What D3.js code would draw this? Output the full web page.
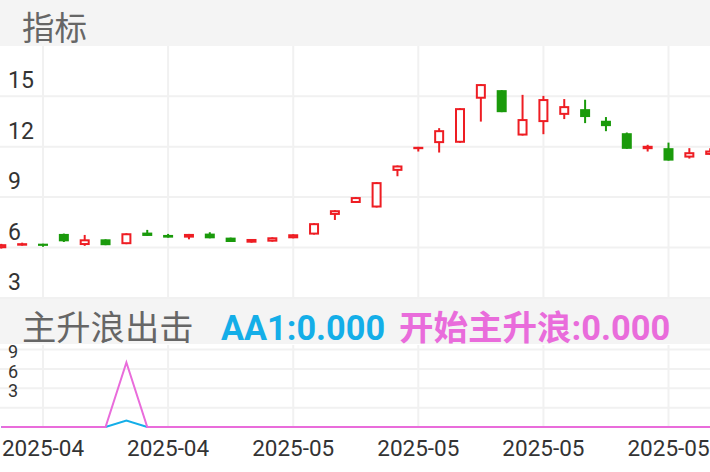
<!DOCTYPE html>
<html>
<head>
<meta charset="utf-8">
<script src="https://cdn.jsdelivr.net/npm/d3@7/dist/d3.min.js"></script>
<style>
  html, body { margin: 0; padding: 0; background: #fff; }
  svg { display: block; }
  text { font-family: Roboto, "Noto Sans CJK SC", sans-serif; }
</style>
</head>
<body>
<svg id="chart" width="710" height="472"></svg>
<script>
// Trading days shown on the chart
const dates = [
  "2025-04-11","2025-04-14","2025-04-15","2025-04-16","2025-04-17","2025-04-18",
  "2025-04-21","2025-04-22","2025-04-23","2025-04-24","2025-04-25","2025-04-28",
  "2025-04-29","2025-04-30","2025-05-06","2025-05-07","2025-05-08","2025-05-09",
  "2025-05-12","2025-05-13","2025-05-14","2025-05-15","2025-05-16","2025-05-19",
  "2025-05-20","2025-05-21","2025-05-22","2025-05-23","2025-05-26","2025-05-27",
  "2025-05-28","2025-05-29","2025-05-30","2025-06-03","2025-06-04"
];

// Daily OHLC prices
const open  = [5.96,6.11,6.23,6.81,6.15,6.49,6.20,6.89,6.75,6.59,6.83,6.59,6.29,6.35,6.55,6.77,7.94,8.65,8.38,10.56,11.85,12.21,12.23,14.85,15.36,12.66,13.46,13.89,14.23,13.54,12.80,11.85,11.91,11.35,11.51];
const close = [6.20,6.26,6.10,6.37,6.49,6.14,6.85,6.69,6.59,6.81,6.55,6.33,6.51,6.61,6.79,7.45,8.22,9.00,9.89,10.88,11.99,12.98,14.29,15.72,14.05,13.64,14.83,14.41,13.76,13.22,11.87,12.05,11.17,11.67,11.77];
const high  = [6.22,6.29,6.23,6.83,6.75,6.49,6.85,7.05,6.81,6.81,6.91,6.59,6.51,6.61,6.79,7.45,8.22,9.00,9.89,10.88,11.99,13.10,14.29,15.72,15.36,15.08,15.02,14.83,14.79,13.76,12.84,12.11,12.24,11.91,11.91];
const low   = [5.94,6.11,6.05,6.33,6.10,6.14,6.20,6.69,6.59,6.49,6.55,6.33,6.29,6.35,6.55,6.77,7.64,8.65,8.38,10.24,11.71,11.65,12.23,13.49,14.05,12.66,12.74,13.64,13.40,12.92,11.87,11.71,11.17,11.29,11.51];

// Indicator series (主升浪出击)
const aa1   = [0,0,0,0,0,0,1,0,0,0,0,0,0,0,0,0,0,0,0,0,0,0,0,0,0,0,0,0,0,0,0,0,0,0,0];
const start = [0,0,0,0,0,0,10,0,0,0,0,0,0,0,0,0,0,0,0,0,0,0,0,0,0,0,0,0,0,0,0,0,0,0,0];

// Axis ticks
const priceTicks = [3, 6, 9, 12, 15];
const subGridTicks = [3, 6, 9, 12];
const subLabelTicks = [3, 6, 9];
const dateTickIndex = [2, 8, 14, 20, 26, 32];

const W = 710;
const RED = "#ee1d23", GREEN = "#1a9a0b";
const GRID = "#f1f1f1", BAND = "#f4f4f4";

const svg = d3.select("#chart");

const x = d3.scalePoint().domain(dates).range([1.3, 710.2]);
const y = d3.scaleLinear().domain([3, 18]).range([298, 45.75]);
const ySub = d3.scaleLinear().domain([0, 12.7]).range([427, 345]);

// Title bands
svg.append("rect").attr("x", 0).attr("y", 0).attr("width", W).attr("height", 46).attr("fill", BAND);
svg.append("rect").attr("x", 0).attr("y", 299).attr("width", W).attr("height", 45).attr("fill", BAND);

svg.append("text").attr("x", 22).attr("y", 40)
  .attr("font-size", 32.5).attr("fill", "#666")
  .style("font-family", "'Noto Sans CJK SC', sans-serif")
  .text("指标");

// Main panel grid
const gMain = svg.append("g");
gMain.selectAll("line.h").data(priceTicks).join("line")
  .attr("x1", 0).attr("x2", W)
  .attr("y1", d => y(d)).attr("y2", d => y(d))
  .attr("stroke", GRID).attr("stroke-width", 2);
gMain.selectAll("line.v").data(dateTickIndex).join("line")
  .attr("x1", i => x(dates[i])).attr("x2", i => x(dates[i]))
  .attr("y1", 46).attr("y2", 298)
  .attr("stroke", GRID).attr("stroke-width", 2);

// Price labels sit just above their grid line
gMain.selectAll("text.py").data(priceTicks).join("text")
  .attr("x", 8).attr("y", d => y(d) - 8)
  .attr("font-size", 23).attr("fill", "#333")
  .text(d => d);

// Candlesticks
const candles = dates.map((d, i) => ({ d, o: open[i], c: close[i], h: high[i], l: low[i] }));
const gC = svg.append("g");
const cg = gC.selectAll("g").data(candles).join("g");
cg.append("line")
  .attr("x1", d => x(d.d)).attr("x2", d => x(d.d))
  .attr("y1", d => y(d.h)).attr("y2", d => y(d.l))
  .attr("stroke", d => d.c >= d.o ? RED : GREEN).attr("stroke-width", 2);
cg.each(function(d) {
  const g = d3.select(this);
  const top = y(Math.max(d.o, d.c)), bot = y(Math.min(d.o, d.c));
  const h = Math.max(bot - top, 2);
  if (d.c >= d.o) {
    // rising: hollow body
    if (h > 4) {
      g.append("rect").attr("x", x(d.d) - 4).attr("y", top + 1)
        .attr("width", 8).attr("height", h - 2)
        .attr("fill", "#fff").attr("stroke", RED).attr("stroke-width", 2);
    } else {
      g.append("rect").attr("x", x(d.d) - 5).attr("y", top)
        .attr("width", 10).attr("height", h).attr("fill", RED);
    }
  } else {
    g.append("rect").attr("x", x(d.d) - 5).attr("y", top)
      .attr("width", 10).attr("height", h).attr("fill", GREEN);
  }
});

// Indicator panel header
svg.append("text").attr("x", 22).attr("y", 339.5)
  .attr("font-size", 34.3).attr("fill", "#666")
  .style("font-family", "'Noto Sans CJK SC', sans-serif")
  .text("主升浪出击");
svg.append("text").attr("x", 221).attr("y", 339.5)
  .attr("font-size", 34.3).attr("font-weight", "bold").attr("fill", "#14aee8")
  .text("AA1:" + aa1[aa1.length - 1].toFixed(3));
svg.append("text").attr("x", 399).attr("y", 339.5)
  .attr("font-size", 34.5).attr("font-weight", "bold").attr("fill", "#e96cdb")
  .style("font-family", "Roboto, 'Noto Sans CJK SC', sans-serif")
  .text("开始主升浪:" + start[start.length - 1].toFixed(3));

// Indicator panel grid
const gSub = svg.append("g");
gSub.selectAll("line.h").data(subGridTicks).join("line")
  .attr("x1", 0).attr("x2", W)
  .attr("y1", d => ySub(d)).attr("y2", d => ySub(d))
  .attr("stroke", GRID).attr("stroke-width", 2);
gSub.selectAll("line.v").data(dateTickIndex).join("line")
  .attr("x1", i => x(dates[i])).attr("x2", i => x(dates[i]))
  .attr("y1", 345).attr("y2", 427)
  .attr("stroke", GRID).attr("stroke-width", 2);
gSub.selectAll("text").data(subLabelTicks).join("text")
  .attr("x", 8).attr("y", d => ySub(d) - 10.5)
  .attr("font-size", 18).attr("fill", "#333")
  .text(d => d);

const line = arr => d3.line().x((v, i) => x(dates[i])).y(v => ySub(v))(arr);
svg.append("path").attr("d", line(aa1))
  .attr("fill", "none").attr("stroke", "#14aee8").attr("stroke-width", 2);
svg.append("path").attr("d", line(start))
  .attr("fill", "none").attr("stroke", "#e96cdb").attr("stroke-width", 2);

// Date axis
svg.append("g").selectAll("text").data(dateTickIndex).join("text")
  .attr("x", i => x(dates[i])).attr("y", 456)
  .attr("text-anchor", "middle")
  .attr("font-size", 22.5).attr("fill", "#333")
  .text(i => dates[i].slice(0, 7));
</script>
</body>
</html>
